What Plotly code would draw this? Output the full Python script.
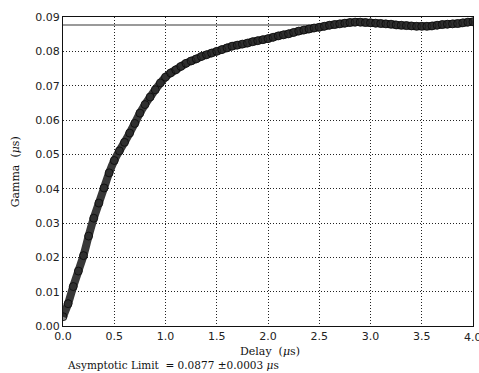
import plotly.graph_objects as go

# Delay (microseconds) and measured gamma values
delay = [round(0.05 * i, 2) for i in range(81)]
gamma = [
    0.0027, 0.0065, 0.0115, 0.0160, 0.0205, 0.0262, 0.0314, 0.0358, 0.0402, 0.0446,
    0.0482, 0.0510, 0.0535, 0.0562, 0.0590, 0.0620, 0.0645, 0.0667, 0.0688, 0.0708,
    0.0725, 0.0737, 0.0746, 0.0756, 0.0765, 0.0772, 0.0778, 0.0785, 0.0790, 0.0795,
    0.0800, 0.0805, 0.0810, 0.0815, 0.0818, 0.0821, 0.0824, 0.0828, 0.0831, 0.0834,
    0.0837, 0.0841, 0.0845, 0.0848, 0.0851, 0.0855, 0.0859, 0.0862, 0.0865, 0.0868,
    0.0870, 0.0873, 0.0876, 0.0878, 0.0880, 0.0882, 0.0884, 0.0885, 0.0885, 0.0884,
    0.0883, 0.0882, 0.0881, 0.0880, 0.0879, 0.0877, 0.0876, 0.0875, 0.0874, 0.0873,
    0.0873, 0.0873, 0.0874, 0.0876, 0.0878, 0.0879, 0.0880, 0.0881, 0.0883, 0.0885,
    0.0886,
]
asymptote = 0.0877
asymptote_err = 0.0003

x_ticks = [0.0, 0.5, 1.0, 1.5, 2.0, 2.5, 3.0, 3.5, 4.0]
y_ticks = [0.00, 0.01, 0.02, 0.03, 0.04, 0.05, 0.06, 0.07, 0.08, 0.09]

serif = "DejaVu Serif, Liberation Serif, serif"
sans = "DejaVu Sans, sans-serif"

fig = go.Figure()
# Thick trace band through the samples, then the sample markers on top
fig.add_trace(go.Scatter(
    x=delay, y=gamma, mode="lines",
    line=dict(color="#383838", width=8, shape="spline", smoothing=0.6),
    showlegend=False, hoverinfo="skip",
))
fig.add_trace(go.Scatter(
    x=delay, y=gamma, mode="markers",
    marker=dict(size=8, color="rgba(40,40,40,0.55)",
                line=dict(color="rgba(10,10,10,0.8)", width=1)),
    showlegend=False,
))

# Fitted asymptotic limit
fig.add_shape(type="line", xref="paper", x0=0, x1=1, yref="y",
              y0=asymptote, y1=asymptote,
              line=dict(color="#9a9a9a", width=2), layer="below")

axis_common = dict(
    showline=True, linecolor="#111", linewidth=1, mirror=True,
    showgrid=True, gridcolor="#222", griddash="1px,2px", gridwidth=1,
    zeroline=False, ticks="", tickfont=dict(family=sans, size=11, color="#222"),
)
fig.update_xaxes(range=[0, 4], tickvals=x_ticks[:-1],
                 ticktext=[f"{v:.1f}" for v in x_ticks[:-1]], **axis_common)
fig.update_yaxes(range=[0, 0.09], tickvals=y_ticks,
                 ticktext=[f"{v:.2f}" for v in y_ticks], **axis_common)

# Last x tick label sits at the right edge of the canvas
fig.add_annotation(text=f"{x_ticks[-1]:.1f}", xref="x", yref="paper",
                   x=x_ticks[-1], y=0, yshift=-3, xanchor="center", yanchor="top",
                   showarrow=False, font=dict(family=sans, size=11, color="#222"))

fig.add_annotation(text="Delay  (<i>μ</i>s)", xref="paper", yref="paper",
                   x=0.505, y=-0.055, xanchor="center", yanchor="top",
                   showarrow=False, font=dict(family=serif, size=11, color="#111"))
fig.add_annotation(text="Gamma  (<i>μ</i>s)", xref="paper", yref="paper",
                   x=-0.115, y=0.5, textangle=-90, xanchor="center", yanchor="middle",
                   showarrow=False, font=dict(family=serif, size=11, color="#111"))
fig.add_annotation(text=f"Asymptotic Limit  = {asymptote:.4f} ±{asymptote_err:.4f} <i>μ</i>s",
                   xref="paper", yref="paper", x=0.005, y=-0.1, xanchor="left", yanchor="top",
                   showarrow=False, font=dict(family=serif, size=10.5, color="#111"))

fig.update_layout(
    width=479, height=373,
    margin=dict(l=63, r=6, t=17, b=47),
    paper_bgcolor="white", plot_bgcolor="white",
)
fig.write_html("out.html")
